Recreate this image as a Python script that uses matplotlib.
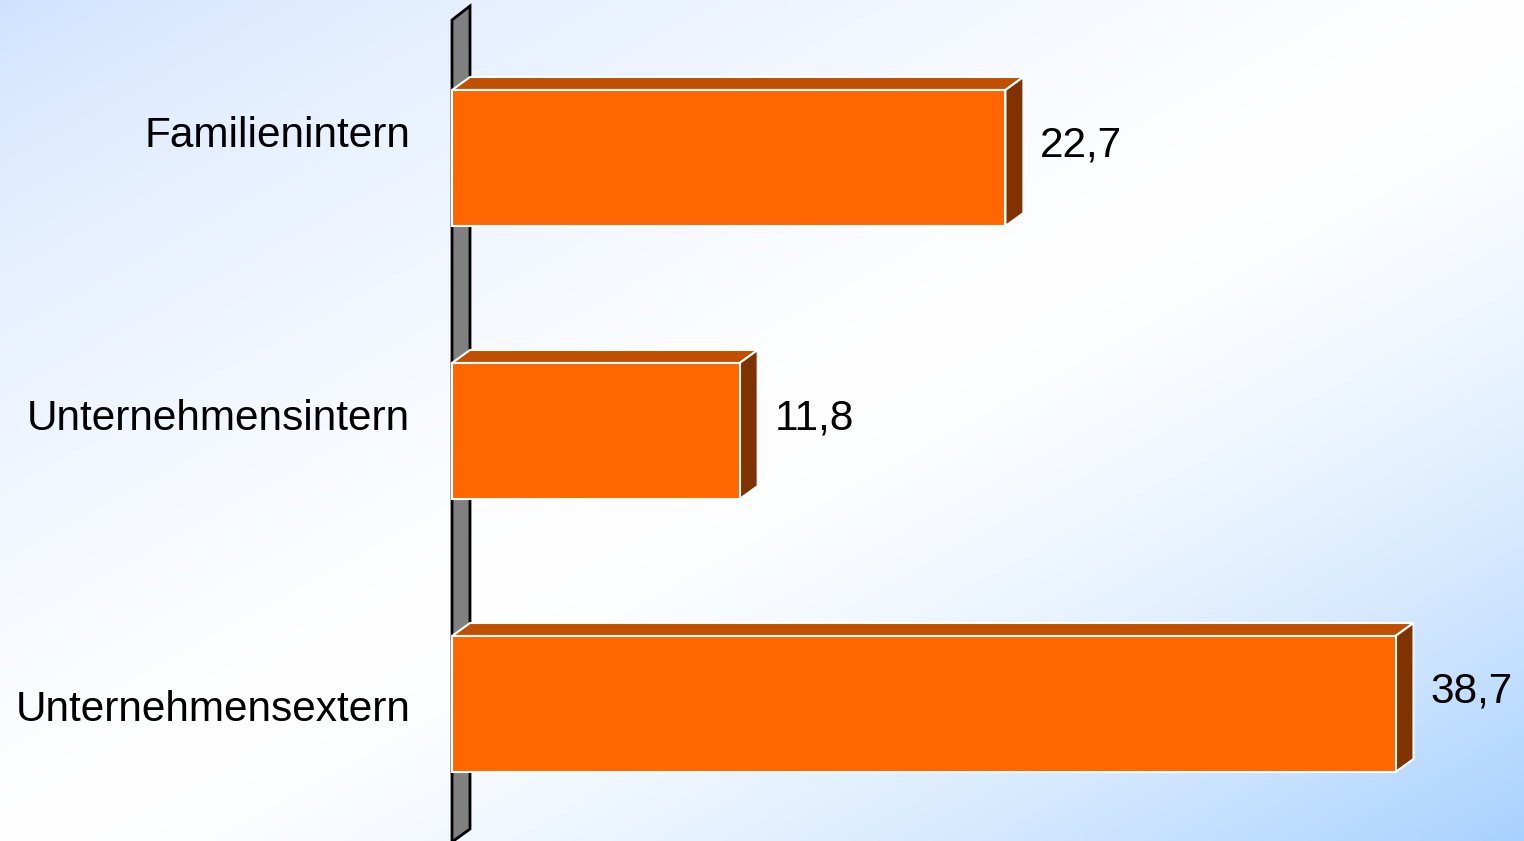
import numpy as np
import matplotlib
matplotlib.use('Agg')
import matplotlib.pyplot as plt
from matplotlib.patches import Polygon, Rectangle

# data
categories = ['Familienintern', 'Unternehmensintern', 'Unternehmensextern']
values = [22.7, 11.8, 38.7]
value_labels = ['22,7', '11,8', '38,7']

plt.rcParams['font.family'] = ['Liberation Sans', 'DejaVu Sans']

W, H = 1524, 841
fig = plt.figure(figsize=(W / 100, H / 100), dpi=100)

# gradient background (blue corners, white diagonal band)
bg = fig.add_axes([0, 0, 1, 1])
gx, gy = np.meshgrid(np.linspace(0, 1, 400), np.linspace(0, 1, 220))
t = (gx + gy) / 2
tl = np.array([0.80, 0.88, 1.0])
br = np.array([0.66, 0.82, 1.0])
white = np.array([1.0, 1.0, 1.0])
lo = np.clip(t / 0.5, 0, 1)[..., None]
hi = np.clip((t - 0.5) / 0.5, 0, 1)[..., None]
img = np.where(t[..., None] < 0.5, tl + (white - tl) * lo ** 0.6, white + (br - white) * hi ** 1.6)
bg.imshow(img, aspect='auto', extent=[0, 1, 1, 0], interpolation='bilinear')
bg.set_axis_off()

ax = fig.add_axes([0, 0, 1, 1])
ax.set_facecolor('none')
px = 24.38          # pixels per value unit
step = 273.0        # pixels between category centres
x0_px, y0_px = 452, 158
ax.set_xlim(-x0_px / px, (W - x0_px) / px)
ax.set_ylim((H - y0_px) / step, -y0_px / step)
ax.set_axis_off()

dx = 18 / px        # depth of 3D effect
dy = 13 / step
h = 136 / step      # bar thickness

# back wall
wall = Polygon([(0, (20 - y0_px) / step), (dx, (6 - y0_px) / step),
                (dx, (829 - y0_px) / step), (0, (842 - y0_px) / step)],
               closed=True, facecolor='#808080', edgecolor='black', lw=2, zorder=1)
ax.add_patch(wall)

for i, (v, lab) in enumerate(zip(values, value_labels)):
    top = i - h / 2
    bot = i + h / 2
    ax.add_patch(Polygon([(0, top), (v, top), (v + dx, top - dy), (dx, top - dy)],
                         closed=True, facecolor='#C05000', edgecolor='white', lw=1.5, zorder=2))
    ax.add_patch(Polygon([(v, top), (v + dx, top - dy), (v + dx, bot - dy), (v, bot)],
                         closed=True, facecolor='#803300', edgecolor='white', lw=1.5, zorder=2))
    ax.add_patch(Rectangle((0, top), v, h, facecolor='#FF6600', edgecolor='white', lw=1.5, zorder=3))
    ax.annotate(lab, xy=(v + dx, i), xytext=(12, 9), textcoords='offset points',
                ha='left', va='center', fontsize=30.5, color='black', zorder=4)

label_shift = [16, 9, -4]  # small vertical nudges, points
for i, (cat, s) in enumerate(zip(categories, label_shift)):
    ax.annotate(cat, xy=(0, i), xytext=(-30, s), textcoords='offset points',
                ha='right', va='center', fontsize=30.5, color='black', zorder=4)

plt.savefig('out.png', dpi=100)
